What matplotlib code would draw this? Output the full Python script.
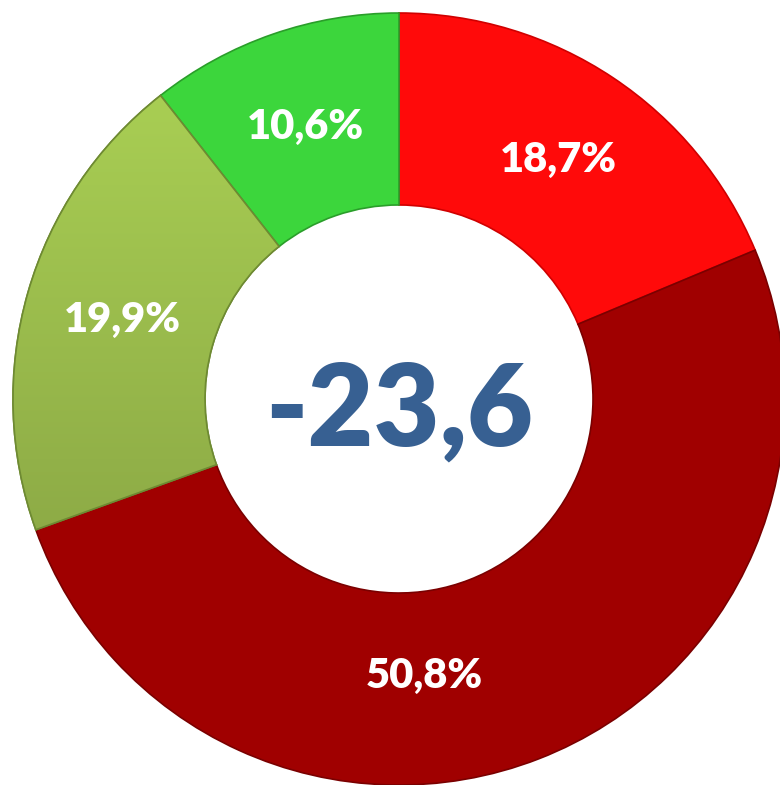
import matplotlib
matplotlib.use("Agg")
import matplotlib.pyplot as plt
from matplotlib.colors import LinearSegmentedColormap
import numpy as np

# Data
categories = ["A", "B", "C", "D"]
values = [18.7, 50.8, 19.9, 10.6]
colors = ["#FF0A0A", "#A00000", "#98B84C", "#3CD63C"]
edge_colors = ["#D00000", "#7A0000", "#6E8A32", "#2A9E2A"]
center_label = "-23,6"
# per-label angular shift (degrees) to mimic the reference's label placement
label_shift = [0, -16, 0, 0]
label_dist = [0.745, 0.72, 0.745, 0.745]

W, H = 780, 785
cx, cy = 399, 399  # pixel center (from top)
R_out = 386
R_in = 194

fig = plt.figure(figsize=(W / 100, H / 100), dpi=100)
ax = fig.add_axes([0, 0, 1, 1])

fam = ["Lato", "DejaVu Sans"]
wedges, texts = ax.pie(
    values,
    colors=colors,
    startangle=90,
    counterclock=False,
    radius=R_out,
    wedgeprops=dict(width=R_out - R_in, linewidth=1.2),
)
for w, ec in zip(wedges, edge_colors):
    w.set_edgecolor(ec)

# gradient on the olive wedge
olive = wedges[2]
cmap = LinearSegmentedColormap.from_list("olive", ["#8BA845", "#AAD054"])
grad = np.linspace(0, 1, 256).reshape(-1, 1)
im = ax.imshow(grad, cmap=cmap, origin="lower", aspect="auto",
               extent=[-R_out, 0, -R_out * 0.45, R_out * 0.85], zorder=olive.get_zorder() + 0.1)
im.set_clip_path(olive)
olive_edge = plt.matplotlib.patches.PathPatch(olive.get_path(), transform=olive.get_transform(),
                                              facecolor="none", edgecolor=edge_colors[2],
                                              linewidth=1.2, zorder=olive.get_zorder() + 0.2)
ax.add_patch(olive_edge)

# percentage labels
for w, v, sh, d in zip(wedges, values, label_shift, label_dist):
    ang = np.deg2rad((w.theta1 + w.theta2) / 2 + sh)
    ax.text(d * R_out * np.cos(ang), d * R_out * np.sin(ang),
            f"{v:.1f}".replace(".", ",") + "%", ha="center", va="center",
            color="white", fontsize=30, fontweight="heavy", family=fam, zorder=10)

ax.text(0, -14, center_label, ha="center", va="center", fontsize=82,
        fontweight="heavy", color="#376092", family=fam, zorder=10)

ax.set_xlim(-cx, W - cx)
ax.set_ylim(-(H - cy), cy)
ax.set_aspect("equal")
ax.axis("off")

fig.savefig("out.png", dpi=100, facecolor="white")
